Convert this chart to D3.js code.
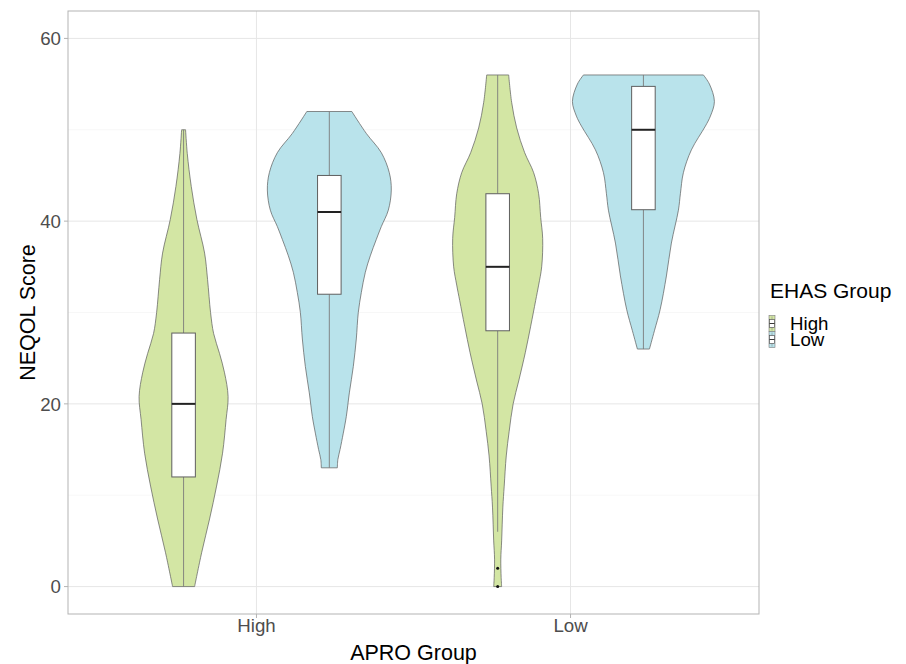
<!DOCTYPE html>
<html>
<head>
<meta charset="utf-8">
<script src="https://cdn.jsdelivr.net/npm/d3@7"></script>
<style>
  html, body { margin: 0; padding: 0; background: #ffffff; }
  svg { display: block; font-family: "Liberation Sans", Arial, Helvetica, sans-serif; }
</style>
</head>
<body>
<svg id="chart" width="906" height="664"></svg>
<script>
// ---------------- data ----------------
const aproGroups = ["High", "Low"];
const ehasGroups = ["High", "Low"];
const yTicks = [0, 20, 40, 60];
const yMinorTicks = [10, 30, 50];

// violin density profiles: [score, relative density]
const violinHighHigh = [[0,0.155],[3.7,0.254],[7.4,0.366],[11,0.465],[14.6,0.549],[18.3,0.599],[20.8,0.627],[23.4,0.577],[25.5,0.507],[27.7,0.423],[30,0.380],[33.6,0.338],[36.5,0.296],[40.2,0.187],[43.8,0.108],[47.4,0.052],[50,0.028]];
const violinHighLow = [[13,0.113],[13.9,0.120],[15,0.151],[16.8,0.197],[18.6,0.239],[21.2,0.282],[24.1,0.338],[27.1,0.380],[30,0.408],[32.2,0.451],[34.4,0.507],[36.2,0.577],[38,0.662],[39.4,0.732],[41.2,0.831],[43.4,0.873],[45.3,0.845],[47.5,0.732],[49.6,0.521],[52,0.317]];
const violinLowHigh = [[0,0.056],[1,0.049],[3,0.044],[5,0.056],[8.7,0.073],[11,0.092],[14.3,0.121],[17,0.162],[20,0.218],[22.5,0.296],[25.6,0.389],[28.5,0.465],[31.3,0.535],[33,0.577],[35,0.620],[38.1,0.634],[40.4,0.606],[43,0.577],[45.3,0.507],[47.5,0.380],[50.2,0.268],[53,0.197],[56,0.155]];
const violinLowLow = [[26,0.085],[28,0.155],[30.3,0.235],[34,0.324],[37.6,0.394],[41.2,0.493],[43,0.521],[45.3,0.563],[47.8,0.676],[50.4,0.873],[51.5,0.944],[53.1,1.0],[55,0.930],[56,0.845]];

// box plot statistics, order: HighHigh, HighLow, LowHigh, LowLow
const boxApro   = ["High", "High", "Low", "Low"];
const boxEhas   = ["High", "Low", "High", "Low"];
const boxQ1     = [12, 32, 28, 41.25];
const boxMedian = [20, 41, 35, 50];
const boxQ3     = [27.75, 45, 43, 54.75];
const whiskerLo = [0, 13, 6, 26];
const whiskerHi = [50, 52, 56, 56];
const outliers  = [[], [], [2, 0], []];

const fillColors = { High: "#d3e6a4", Low: "#b9e3eb" };

// ---------------- layout ----------------
const svg = d3.select("#chart");
const panel = { left: 68, right: 759, top: 11, bottom: 614 };

const x = d3.scaleLinear().domain([0.4, 2.6]).range([panel.left, panel.right]);
const xCat = d3.scaleOrdinal().domain(aproGroups).range([1, 2]);
const dodge = d3.scaleOrdinal().domain(ehasGroups).range([-0.232, 0.232]);
const y = d3.scaleLinear().domain([-3, 63]).range([panel.bottom, panel.top]);
const densityUnits = 0.226; // half-width (x units) at density 1
const boxHalf = 0.0375;

const g = svg.append("g");

// grid
g.selectAll("line.ymin").data(yMinorTicks).join("line")
  .attr("x1", panel.left).attr("x2", panel.right)
  .attr("y1", d => y(d)).attr("y2", d => y(d))
  .attr("stroke", "#f2f2f2").attr("stroke-width", 0.6);
g.selectAll("line.ymaj").data(yTicks).join("line")
  .attr("x1", panel.left).attr("x2", panel.right)
  .attr("y1", d => y(d)).attr("y2", d => y(d))
  .attr("stroke", "#e6e6e6").attr("stroke-width", 1);
g.selectAll("line.xmaj").data(aproGroups).join("line")
  .attr("x1", d => x(xCat(d))).attr("x2", d => x(xCat(d)))
  .attr("y1", panel.top).attr("y2", panel.bottom)
  .attr("stroke", "#e6e6e6").attr("stroke-width", 1);

// violins
const violins = [
  { apro: "High", ehas: "High", prof: violinHighHigh },
  { apro: "High", ehas: "Low", prof: violinHighLow },
  { apro: "Low", ehas: "High", prof: violinLowHigh },
  { apro: "Low", ehas: "Low", prof: violinLowLow }
];
violins.forEach(v => {
  const c = xCat(v.apro) + dodge(v.ehas);
  const area = d3.area()
    .y(d => y(d[0]))
    .x0(d => x(c - d[1] * densityUnits))
    .x1(d => x(c + d[1] * densityUnits))
    .curve(d3.curveCatmullRom.alpha(0.5));
  g.append("path").datum(v.prof)
    .attr("d", area)
    .attr("fill", fillColors[v.ehas])
    .attr("stroke", "#5a5a5a").attr("stroke-width", 0.7);
});

// box plots
boxApro.forEach((a, i) => {
  const c = xCat(a) + dodge(boxEhas[i]);
  const cx = x(c);
  const bg = g.append("g");
  bg.append("line").attr("x1", cx).attr("x2", cx)
    .attr("y1", y(whiskerLo[i])).attr("y2", y(boxQ1[i]))
    .attr("stroke", "#7a7a7a").attr("stroke-width", 0.9);
  bg.append("line").attr("x1", cx).attr("x2", cx)
    .attr("y1", y(boxQ3[i])).attr("y2", y(whiskerHi[i]))
    .attr("stroke", "#7a7a7a").attr("stroke-width", 0.9);
  bg.append("rect")
    .attr("x", x(c - boxHalf)).attr("width", x(c + boxHalf) - x(c - boxHalf))
    .attr("y", y(boxQ3[i])).attr("height", y(boxQ1[i]) - y(boxQ3[i]))
    .attr("fill", "#ffffff").attr("stroke", "#5f5f5f").attr("stroke-width", 1);
  bg.append("line")
    .attr("x1", x(c - boxHalf)).attr("x2", x(c + boxHalf))
    .attr("y1", y(boxMedian[i])).attr("y2", y(boxMedian[i]))
    .attr("stroke", "#222222").attr("stroke-width", 2);
  bg.selectAll("circle").data(outliers[i]).join("circle")
    .attr("cx", cx).attr("cy", d => y(d)).attr("r", 1.5)
    .attr("fill", "#111111");
});

// panel border
g.append("rect")
  .attr("x", panel.left).attr("y", panel.top)
  .attr("width", panel.right - panel.left).attr("height", panel.bottom - panel.top)
  .attr("fill", "none").attr("stroke", "#b3b3b3").attr("stroke-width", 1);

// y axis ticks + labels
g.selectAll("line.ytick").data(yTicks).join("line")
  .attr("x1", panel.left - 4).attr("x2", panel.left)
  .attr("y1", d => y(d)).attr("y2", d => y(d))
  .attr("stroke", "#b3b3b3").attr("stroke-width", 1);
g.selectAll("text.ylab").data(yTicks).join("text")
  .attr("x", panel.left - 7).attr("y", d => y(d)).attr("dy", "0.36em")
  .attr("text-anchor", "end").attr("font-size", 18.7).attr("fill", "#4d4d4d")
  .text(d => d);

// x axis ticks + labels
g.selectAll("line.xtick").data(aproGroups).join("line")
  .attr("x1", d => x(xCat(d))).attr("x2", d => x(xCat(d)))
  .attr("y1", panel.bottom).attr("y2", panel.bottom + 4)
  .attr("stroke", "#b3b3b3").attr("stroke-width", 1);
g.selectAll("text.xlab").data(aproGroups).join("text")
  .attr("x", d => x(xCat(d))).attr("y", 632)
  .attr("text-anchor", "middle").attr("font-size", 18.7).attr("fill", "#4d4d4d")
  .text(d => d);

// axis titles
svg.append("text").attr("x", (panel.left + panel.right) / 2).attr("y", 660)
  .attr("text-anchor", "middle").attr("font-size", 21.5).attr("fill", "#000")
  .text("APRO Group");
svg.append("text")
  .attr("transform", `translate(35, ${(panel.top + panel.bottom) / 2}) rotate(-90)`)
  .attr("text-anchor", "middle").attr("font-size", 21.5).attr("fill", "#000")
  .text("NEQOL Score");

// legend
const lg = svg.append("g");
lg.append("text").attr("x", 770).attr("y", 298)
  .attr("font-size", 21).attr("fill", "#000").text("EHAS Group");
ehasGroups.forEach((e, i) => {
  const ky = 315.5 + i * 16;
  const kx = 769;
  const kw = 6, kh = 16;
  lg.append("rect").attr("x", kx).attr("y", ky).attr("width", kw).attr("height", kh)
    .attr("fill", fillColors[e]).attr("stroke", "#7a7a7a").attr("stroke-width", 0.6);
  lg.append("line").attr("x1", kx + kw / 2).attr("x2", kx + kw / 2)
    .attr("y1", ky + 1).attr("y2", ky + kh - 1)
    .attr("stroke", "#7a7a7a").attr("stroke-width", 0.5);
  lg.append("rect").attr("x", kx + 0.5).attr("y", ky + kh * 0.25).attr("width", kw - 1).attr("height", kh * 0.5)
    .attr("fill", "#fff").attr("stroke", "#555").attr("stroke-width", 0.7);
  lg.append("line").attr("x1", kx + 0.5).attr("x2", kx + kw - 0.5)
    .attr("y1", ky + kh / 2).attr("y2", ky + kh / 2)
    .attr("stroke", "#222").attr("stroke-width", 0.9);
  lg.append("text").attr("x", 790).attr("y", ky + 14.5)
    .attr("font-size", 18.7).attr("fill", "#000").text(e);
});
</script>
</body>
</html>
